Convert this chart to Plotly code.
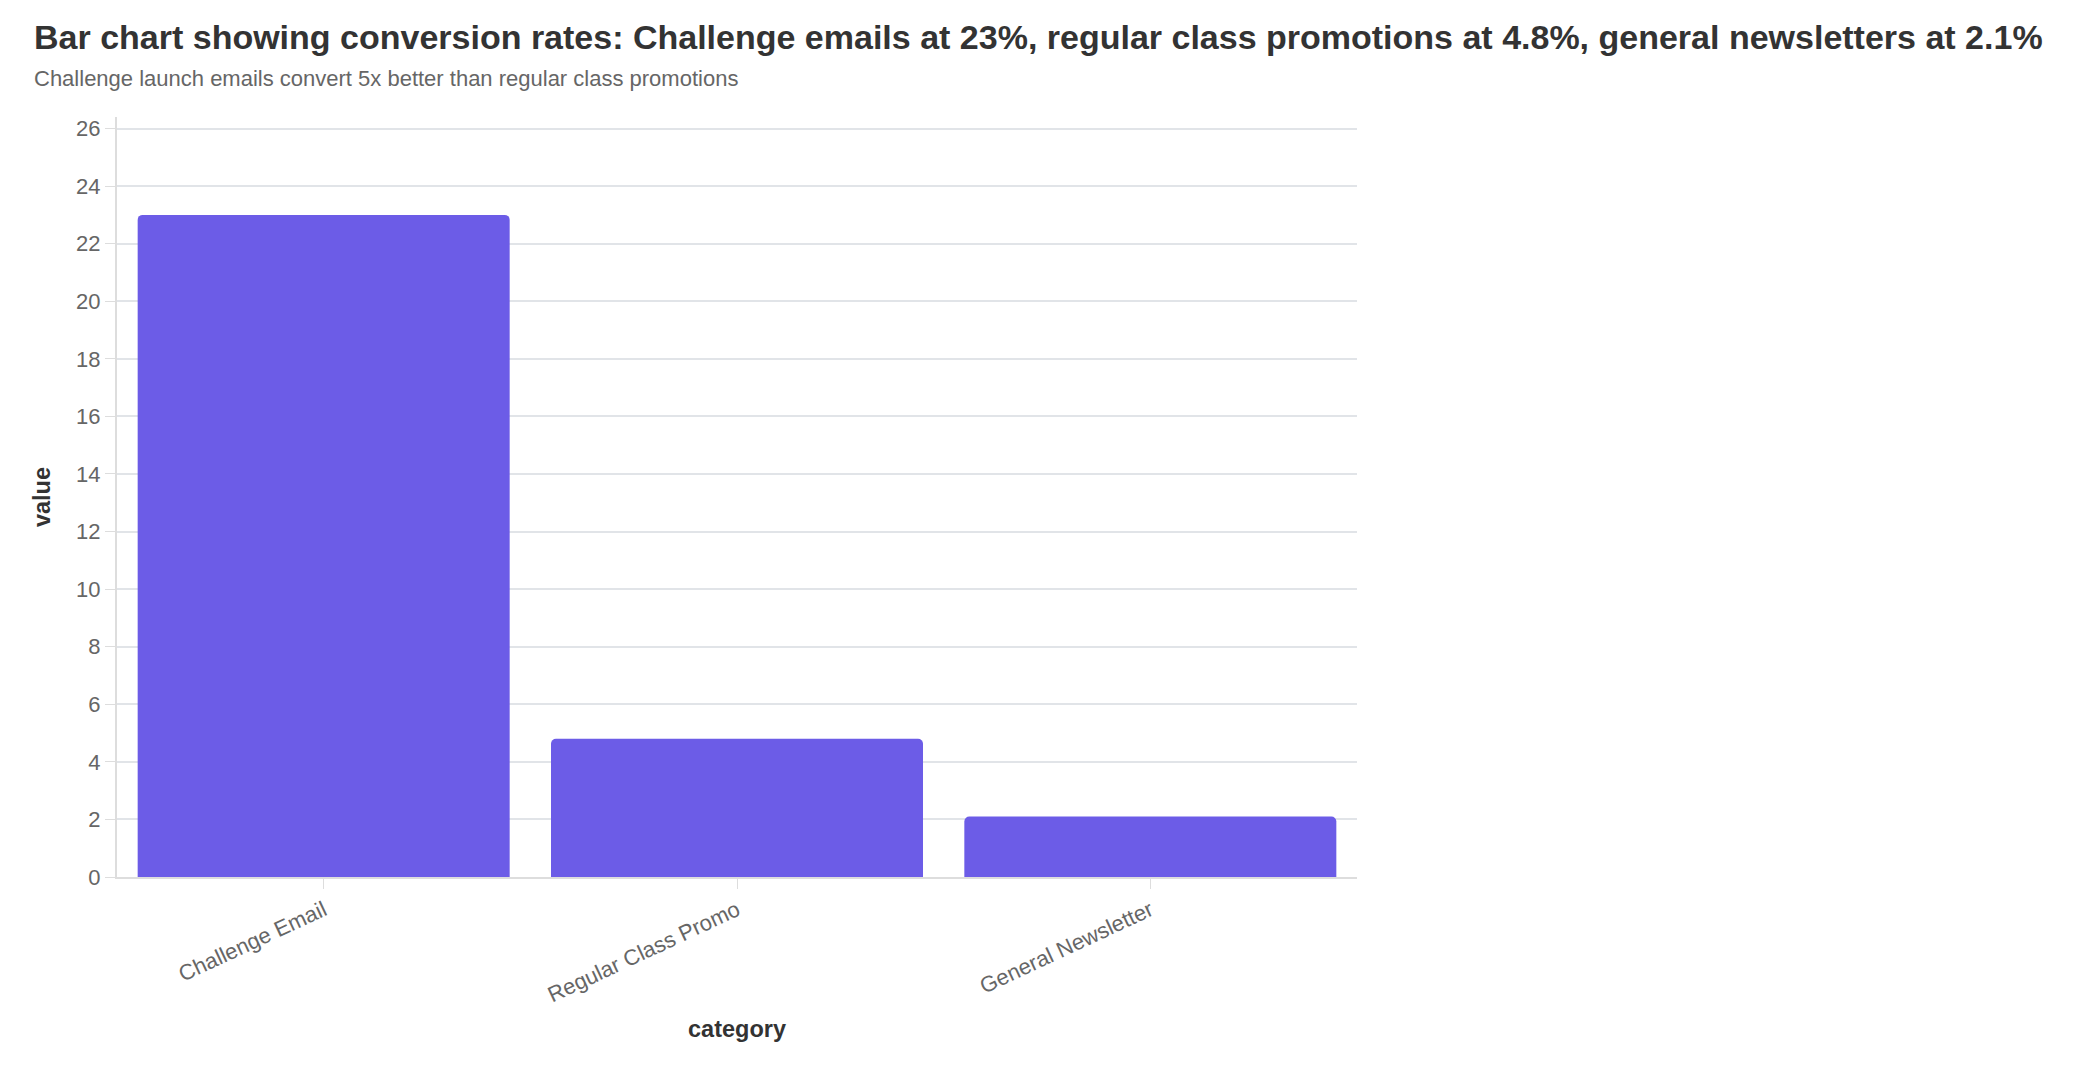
import plotly.graph_objects as go

categories = ["Challenge Email", "Regular Class Promo", "General Newsletter"]
values = [23, 4.8, 2.1]
y_ticks = list(range(0, 27, 2))

title_text = "Bar chart showing conversion rates: Challenge emails at 23%, regular class promotions at 4.8%, general newsletters at 2.1%"
subtitle_text = "Challenge launch emails convert 5x better than regular class promotions"

FONT = "Liberation Sans, Arial, sans-serif"

W, H = 2092, 1072
ML, MR, MT, MB = 117, 735, 117, 195

fig = go.Figure(go.Bar(
    x=categories, y=values,
    marker=dict(color="#6c5ce7", cornerradius=5, line=dict(width=0)),
))

plot_w = W - ML - MR
plot_h = H - MT - MB

def px_x(x):
    return (x - ML) / plot_w

def px_y(y):
    return (H - y - MB) / plot_h

fig.update_layout(
    width=W, height=H,
    paper_bgcolor="white", plot_bgcolor="white",
    margin=dict(l=ML, r=MR, t=MT, b=MB),
    bargap=0.1,
    font=dict(family=FONT, color="#666666", size=22),
    showlegend=False,
    annotations=[
        dict(text="<b>" + title_text + "</b>", x=px_x(32), y=px_y(37), xref="paper", yref="paper",
             xanchor="left", yanchor="middle", showarrow=False,
             font=dict(size=34, color="#333333", family=FONT)),
        dict(text=subtitle_text, x=px_x(32), y=px_y(79), xref="paper", yref="paper",
             xanchor="left", yanchor="middle", showarrow=False,
             font=dict(size=22, color="#666666", family=FONT)),
    ],
)

fig.update_xaxes(
    showline=True, linecolor="#dddddd", linewidth=2,
    ticks="outside", ticklen=10, tickcolor="#dddddd",
    tickangle=-25, tickfont=dict(size=22, color="#666666"),
    title=dict(text="<b>category</b>", font=dict(size=23.5, color="#333333"), standoff=14),
    showgrid=False,
)
fig.update_yaxes(
    range=[0, 26.4], tickvals=y_ticks,
    showline=True, linecolor="#dddddd", linewidth=2,
    ticks="outside", ticklen=10, tickcolor="#dddddd",
    gridcolor="#e1e4e8", gridwidth=1.5, zeroline=False,
    tickfont=dict(size=22, color="#666666"),
    title=dict(text="<b>value</b>", font=dict(size=23.5, color="#333333"), standoff=19),
)

fig.write_html("out.html")
